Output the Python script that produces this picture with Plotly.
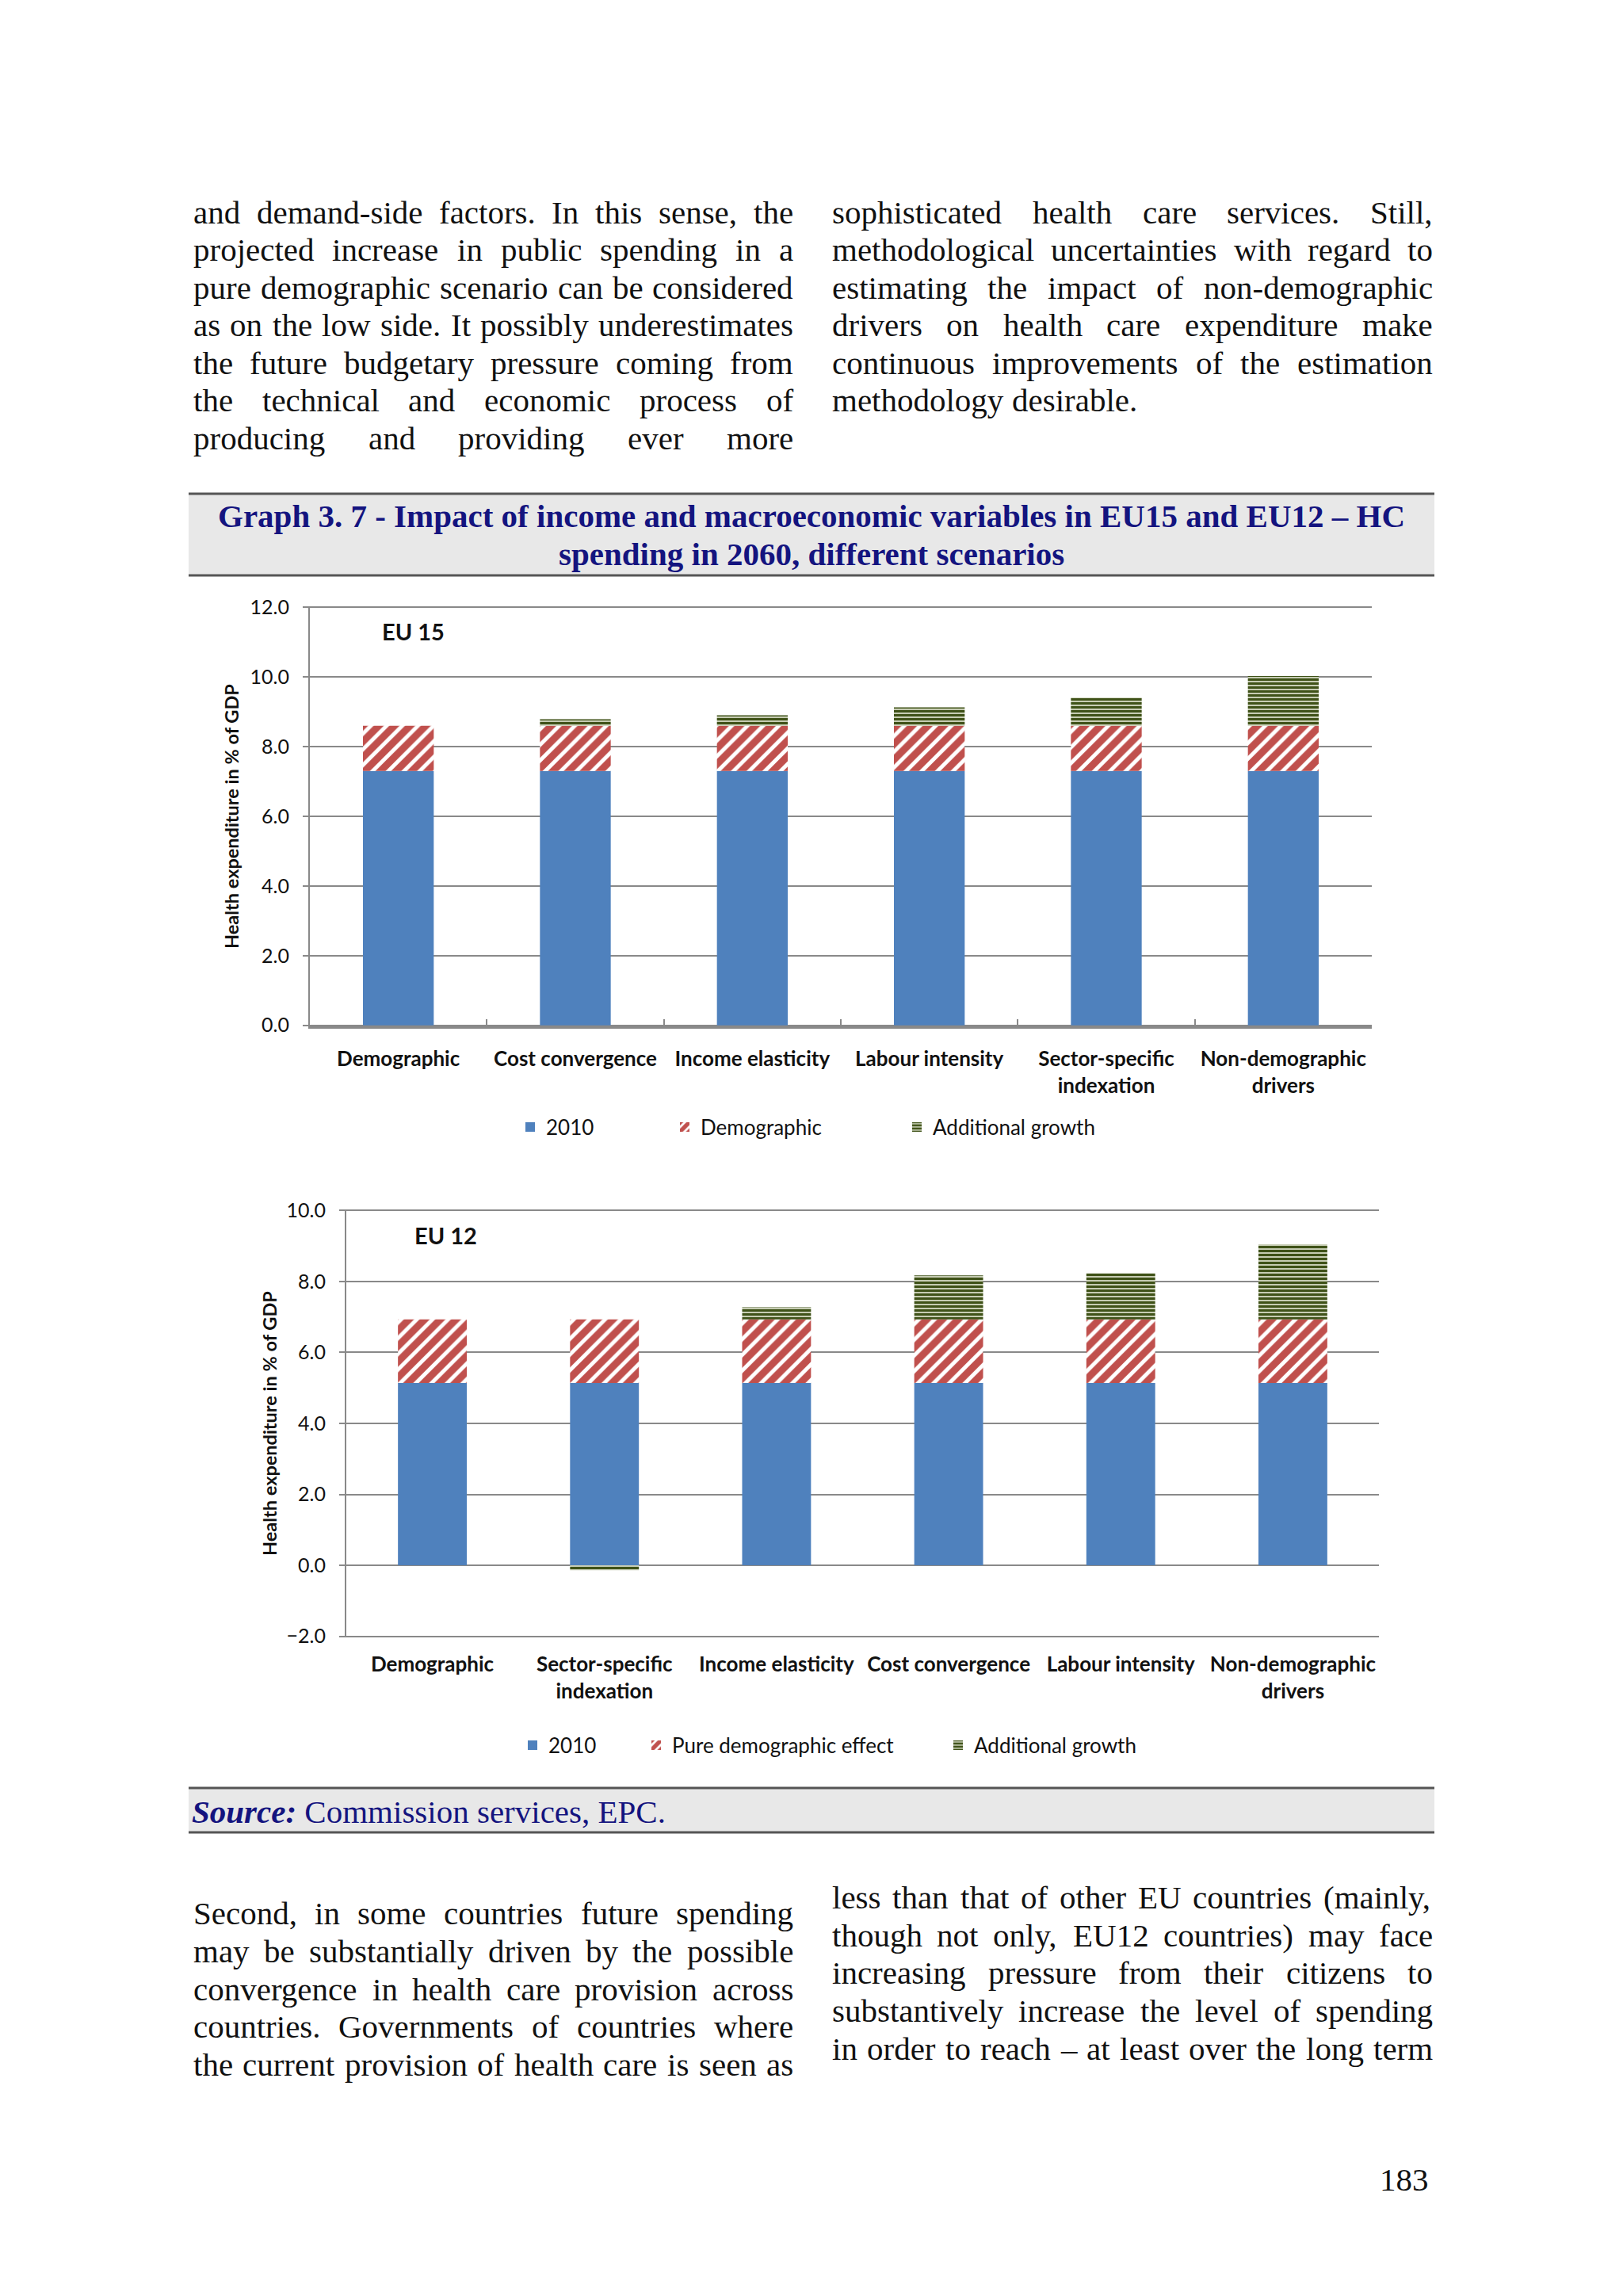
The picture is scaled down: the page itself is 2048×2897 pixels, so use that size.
import plotly.graph_objects as go

W, H = 2048, 2897

# ---------------- data ----------------
eu15_categories = ["Demographic", "Cost convergence", "Income elasticity", "Labour intensity",
                   "Sector-specific<br>indexation", "Non-demographic<br>drivers"]
eu15_2010 = [7.30, 7.30, 7.30, 7.30, 7.30, 7.30]
eu15_demographic = [1.30, 1.30, 1.30, 1.30, 1.30, 1.30]
eu15_additional = [0.00, 0.19, 0.30, 0.53, 0.81, 1.43]
eu15_series_names = ["2010", "Demographic", "Additional growth"]
eu15_yticks = [0, 2, 4, 6, 8, 10, 12]

eu12_categories = ["Demographic", "Sector-specific<br>indexation", "Income elasticity", "Cost convergence",
                   "Labour intensity", "Non-demographic<br>drivers"]
eu12_2010 = [5.14, 5.14, 5.14, 5.14, 5.14, 5.14]
eu12_demographic = [1.79, 1.79, 1.79, 1.79, 1.79, 1.79]
eu12_additional = [0.00, -0.14, 0.34, 1.24, 1.30, 2.12]
eu12_series_names = ["2010", "Pure demographic effect", "Additional growth"]
eu12_yticks = [-2, 0, 2, 4, 6, 8, 10]

eu15_panel_label = "EU 15"
eu12_panel_label = "EU 12"
y_axis_title = "Health expenditure in % of GDP"

title_lines = ["Graph 3. 7 - Impact of income and macroeconomic variables in EU15 and EU12 – HC",
               "spending in 2060, different scenarios"]
source_label = "Source:"
source_text = "Commission services, EPC."
page_number = "183"

top_left_lines = [
    "and demand-side factors. In this sense, the",
    "projected increase in public spending in a",
    "pure demographic scenario can be considered",
    "as on the low side. It possibly underestimates",
    "the future budgetary pressure coming from",
    "the technical and economic process of",
    "producing and providing ever more",
]
top_right_lines = [
    "sophisticated health care services. Still,",
    "methodological uncertainties with regard to",
    "estimating the impact of non-demographic",
    "drivers on health care expenditure make",
    "continuous improvements of the estimation",
    "methodology desirable.",
]
bottom_left_lines = [
    "Second, in some countries future spending",
    "may be substantially driven by the possible",
    "convergence in health care provision across",
    "countries. Governments of countries where",
    "the current provision of health care is seen as",
]
bottom_right_lines = [
    "less than that of other EU countries (mainly,",
    "though not only, EU12 countries) may face",
    "increasing pressure from their citizens to",
    "substantively increase the level of spending",
    "in order to reach – at least over the long term",
]

# ---------------- helpers ----------------
def X(px):
    return px / W


def Y(py):
    return 1 - py / H


# Times / Liberation Serif advance widths (1/1000 em)
_TW = {' ': 250, ',': 250, '.': 250, '-': 333, '(': 333, ')': 333, ':': 278, ';': 278, '–': 500, "'": 180}
for _c in "0123456789":
    _TW[_c] = 500
_lower = dict(a=444, b=500, c=444, d=500, e=444, f=333, g=500, h=500, i=278, j=278, k=500, l=278, m=778,
              n=500, o=500, p=500, q=500, r=333, s=389, t=278, u=500, v=500, w=722, x=500, y=500, z=444)
_upper = dict(A=722, B=667, C=667, D=722, E=611, F=556, G=722, H=722, I=333, J=389, K=722, L=611, M=889,
              N=722, O=722, P=556, Q=722, R=667, S=556, T=611, U=722, V=722, W=944, X=722, Y=722, Z=611)
_TW.update(_lower)
_TW.update(_upper)

BODY_FONT = "Liberation Serif"
BODY_SIZE = 41
TEXT_COLOR = "#111111"


def word_w(word, size):
    return sum(_TW.get(ch, 500) for ch in word) / 1000.0 * size


annotations = []


def add_column(lines, x0, x1, y0, step, justify_last):
    n = len(lines)
    for i, line in enumerate(lines):
        words = line.split(" ")
        widths = [word_w(w, BODY_SIZE) for w in words]
        justify = (i < n - 1) or justify_last
        if justify and len(words) > 1:
            gap = (x1 - x0 - sum(widths)) / (len(words) - 1)
        else:
            gap = word_w(" ", BODY_SIZE)
        x = x0
        yc = y0 + i * step
        for w, ww in zip(words, widths):
            annotations.append(dict(
                x=X(x), y=Y(yc), xref="paper", yref="paper", text=w, showarrow=False,
                xanchor="left", yanchor="middle", borderpad=0,
                font=dict(family=BODY_FONT, size=BODY_SIZE, color=TEXT_COLOR)))
            x += ww + gap


add_column(top_left_lines, 243, 1000, 268, 47.5, True)
add_column(top_right_lines, 1049, 1807, 268, 47.5, False)
add_column(bottom_left_lines, 243, 1000, 2414, 47.8, True)
add_column(bottom_right_lines, 1049, 1807, 2394, 47.7, True)

NAVY = "#14147f"
for i, t in enumerate(title_lines):
    annotations.append(dict(x=X(1024), y=Y(651 + i * 48), xref="paper", yref="paper", text=f"<b>{t}</b>",
                            showarrow=False, xanchor="center", yanchor="middle",
                            font=dict(family=BODY_FONT, size=41, color=NAVY)))

annotations.append(dict(x=X(241), y=Y(2286), xref="paper", yref="paper",
                        text=f"<b><i>{source_label}</i></b> {source_text}", showarrow=False,
                        xanchor="left", yanchor="middle", borderpad=0,
                        font=dict(family=BODY_FONT, size=41, color=NAVY)))

annotations.append(dict(x=X(1805), y=Y(2750), xref="paper", yref="paper", text=page_number,
                        showarrow=False, xanchor="right", yanchor="middle",
                        font=dict(family=BODY_FONT, size=41, color=TEXT_COLOR)))

SANS = "Lato"
annotations.append(dict(x=X(521), y=Y(796), xref="paper", yref="paper", text=f"<b>{eu15_panel_label}</b>",
                        showarrow=False, xanchor="center", yanchor="middle",
                        font=dict(family=SANS, size=29, color=TEXT_COLOR)))
annotations.append(dict(x=X(562), y=Y(1558), xref="paper", yref="paper", text=f"<b>{eu12_panel_label}</b>",
                        showarrow=False, xanchor="center", yanchor="middle",
                        font=dict(family=SANS, size=29, color=TEXT_COLOR)))
annotations.append(dict(x=X(292), y=Y(1030), xref="paper", yref="paper", text=f"<b>{y_axis_title}</b>",
                        showarrow=False, textangle=-90, xanchor="center", yanchor="middle",
                        font=dict(family=SANS, size=23.5, color=TEXT_COLOR)))
annotations.append(dict(x=X(340), y=Y(1796), xref="paper", yref="paper", text=f"<b>{y_axis_title}</b>",
                        showarrow=False, textangle=-90, xanchor="center", yanchor="middle",
                        font=dict(family=SANS, size=23.5, color=TEXT_COLOR)))

# ---------------- bars ----------------
BLUE = "#4f81bd"
RED = "#c0504d"
GREEN = "#3f5218"
GREEN_BG = "#f2f5e6"

fig = go.Figure()


def add_stack(cats, base, demo, add, names, xa, ya, legends):
    fig.add_bar(x=cats, y=base, name=names[0], xaxis=xa, yaxis=ya, legend=legends[0], showlegend=True,
                marker=dict(color=BLUE, line=dict(width=0)))
    fig.add_bar(x=cats, y=demo, name=names[1], xaxis=xa, yaxis=ya, legend=legends[1], showlegend=True,
                marker=dict(color="white", line=dict(width=0), opacity=1,
                            pattern=dict(shape="/", fgcolor=RED, bgcolor="white", size=14, solidity=0.65,
                                         fillmode="replace", fgopacity=1)))
    fig.add_bar(x=cats, y=add, name=names[2], xaxis=xa, yaxis=ya, legend=legends[2], showlegend=True,
                marker=dict(color=GREEN_BG, line=dict(width=0), opacity=1,
                            pattern=dict(shape="-", fgcolor=GREEN, bgcolor=GREEN_BG, size=5, solidity=0.7,
                                         fillmode="replace", fgopacity=1)))


add_stack(eu15_categories, eu15_2010, eu15_demographic, eu15_additional, eu15_series_names,
          "x", "y", ["legend", "legend2", "legend3"])
add_stack(eu12_categories, eu12_2010, eu12_demographic, eu12_additional, eu12_series_names,
          "x2", "y2", ["legend4", "legend5", "legend6"])

GRID = "#898989"
tick_font = dict(family=SANS, size=25, color=TEXT_COLOR)
cat_font = dict(family=SANS, size=26, color=TEXT_COLOR, weight="bold")

yaxis_common = dict(tickformat=".1f", showgrid=True, gridcolor=GRID, gridwidth=2, zeroline=False,
                    showline=True, linecolor=GRID, linewidth=2, ticks="outside", ticklen=7,
                    tickcolor=GRID, tickwidth=2, tickfont=tick_font, ticklabelstandoff=12,
                    automargin=False)

n15 = len(eu15_categories)
n12 = len(eu12_categories)
pad = 0.03

legend_common = dict(orientation="h", xanchor="left", yanchor="middle", bgcolor="rgba(0,0,0,0)",
                     font=dict(family=SANS, size=26, color=TEXT_COLOR), itemwidth=30)

fig.update_layout(
    width=W, height=H, autosize=False,
    margin=dict(l=0, r=0, t=0, b=0, autoexpand=False),
    paper_bgcolor="white", plot_bgcolor="white",
    showlegend=True,
    barmode="relative", bargap=0.6,
    xaxis=dict(domain=[X(391), X(1731)], type="category", anchor="y", range=[-0.5, n15 - 0.5],
               showline=True, linecolor=GRID, linewidth=3, ticks="inside", tickson="boundaries",
               ticklen=9, tickcolor=GRID, tickwidth=2, tickfont=cat_font, ticklabelstandoff=16,
               showgrid=False, automargin=False),
    yaxis=dict(domain=[Y(1295), Y(765)], range=[eu15_yticks[0] - pad, eu15_yticks[-1] + pad],
               tickvals=eu15_yticks, anchor="x", **yaxis_common),
    xaxis2=dict(domain=[X(437), X(1740)], type="category", anchor="y2", range=[-0.5, n12 - 0.5],
                showline=False, ticks="", tickfont=cat_font, ticklabelstandoff=16, showgrid=False,
                automargin=False),
    xaxis3=dict(overlaying="x2", anchor="free", position=Y(1976), type="linear",
                range=[-0.5, n12 - 0.5], tickvals=[i + 0.5 for i in range(n12)],
                showline=True, linecolor=GRID, linewidth=3, ticks="inside", ticklen=9,
                tickcolor=GRID, tickwidth=2, showticklabels=False, showgrid=False, zeroline=False,
                automargin=False),
    yaxis2=dict(domain=[Y(2066), Y(1526)], range=[eu12_yticks[0] - pad, eu12_yticks[-1] + pad],
                tickvals=eu12_yticks, anchor="x2", **yaxis_common),
    legend=dict(x=X(649), y=Y(1422), **legend_common),
    legend2=dict(x=X(844), y=Y(1422), **legend_common),
    legend3=dict(x=X(1137), y=Y(1422), **legend_common),
    legend4=dict(x=X(652), y=Y(2202), **legend_common),
    legend5=dict(x=X(808), y=Y(2202), **legend_common),
    legend6=dict(x=X(1189), y=Y(2202), **legend_common),
    annotations=annotations,
    shapes=[
        dict(type="rect", xref="paper", yref="paper", x0=X(238), x1=X(1810), y0=Y(726), y1=Y(623),
             fillcolor="#e8e8e8", line=dict(width=0), layer="below"),
        dict(type="line", xref="paper", yref="paper", x0=X(238), x1=X(1810), y0=Y(623), y1=Y(623),
             line=dict(color="#555555", width=3)),
        dict(type="line", xref="paper", yref="paper", x0=X(238), x1=X(1810), y0=Y(726), y1=Y(726),
             line=dict(color="#555555", width=3)),
        dict(type="rect", xref="paper", yref="paper", x0=X(238), x1=X(1810), y0=Y(2312), y1=Y(2256),
             fillcolor="#e8e8e8", line=dict(width=0), layer="below"),
        dict(type="line", xref="paper", yref="paper", x0=X(238), x1=X(1810), y0=Y(2256), y1=Y(2256),
             line=dict(color="#555555", width=3)),
        dict(type="line", xref="paper", yref="paper", x0=X(238), x1=X(1810), y0=Y(2312), y1=Y(2312),
             line=dict(color="#555555", width=3)),
    ],
)

fig.write_html("out.html", config={"displayModeBar": False},
               post_script="document.body.style.margin='0';document.body.style.overflow='hidden';")
